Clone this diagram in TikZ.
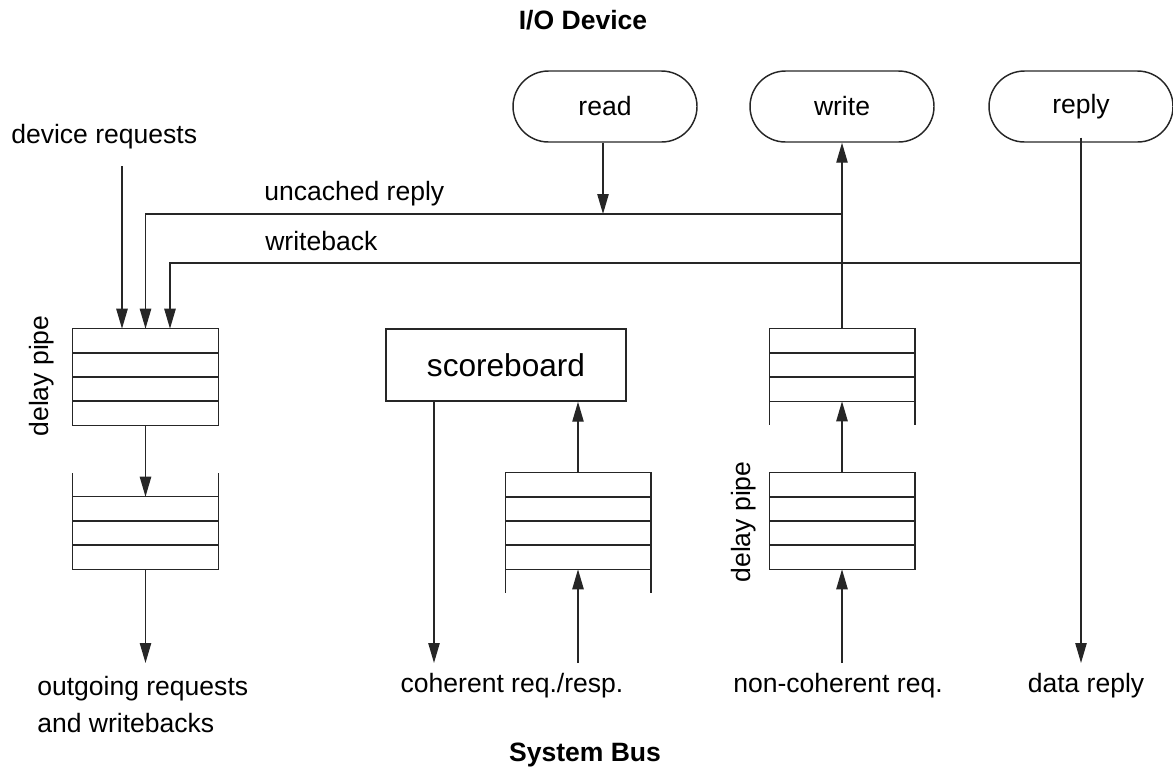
\documentclass[tikz,border=0pt]{standalone}
\usepackage{fontspec}
\setmainfont{Liberation Sans}
\usetikzlibrary{arrows.meta,calc,shapes.misc}

% draws a FIFO body: outline plus the row separators at the given fractions
\newcommand\drawfifo[2]{%
  \draw[line] (#1.north west) rectangle (#1.south east);
  \foreach \f in {#2}
    \draw[line] ($(#1.north west)!\f!(#1.south west)$) -- ($(#1.north east)!\f!(#1.south east)$);
}

\begin{document}
\begin{tikzpicture}[x=0.75pt,y=-0.75pt,
  every node/.style={font=\fontsize{19.9pt}{24pt}\selectfont, inner sep=0pt},
  line/.style={draw=black!85, line width=1.1pt},
  arr/.style={line, -{Triangle[length=15pt,width=8.5pt]}},
  term/.style={line, rounded rectangle, minimum width=138pt, minimum height=53.25pt},
  fifo/.style={rectangle, minimum width=108.75pt},
  lbl/.style={anchor=base west},
  clbl/.style={anchor=base},
  vlbl/.style={rotate=90},
  title/.style={anchor=base, font=\bfseries\fontsize{19.9pt}{24pt}\selectfont}]

\useasboundingbox (0,0) rectangle (1173,776);

% headings
\node[title] (top) at (583,29) {I/O Device};
\node[title] (bot) at (585,761) {System Bus};

% device-side terminals
\node[term] (read)  at (605,106.5)  {read};
\node[term] (write) at (842,106.5)  {write};
\node[term] (reply) at (1081,106.5) {reply};

% queues
\node[fifo, minimum height=72pt] (fA) at (145.5,377) {};
\node[fifo, minimum height=54pt] (fB) at (145.5,533) {};
\node[fifo, minimum height=54pt] (fC) at (842,365) {};
\node[fifo, minimum height=72pt] (fD) at (842,521) {};
\node[fifo, minimum height=72pt] (fM) at (578,521) {};
\drawfifo{fA}{0.25,0.5,0.75}
\drawfifo{fB}{0.3333,0.6667}
\drawfifo{fC}{0.3333,0.6667}
\drawfifo{fD}{0.25,0.5,0.75}
\drawfifo{fM}{0.25,0.5,0.75}
% open ends of queues
\draw[line] (fB.north west) -- ++(0,-24);
\draw[line] (fB.north east) -- ++(0,-24);
\draw[line] (fC.south west) -- ++(0,24);
\draw[line] (fC.south east) -- ++(0,24);
\draw[line] (fM.south west) -- ++(0,24);
\draw[line] (fM.south east) -- ++(0,24);

% scoreboard
\node[line, rectangle, minimum width=180pt, minimum height=54pt,
      font=\fontsize{23.7pt}{28pt}\selectfont] (sb) at (506,365) {scoreboard};

% labels
\node[lbl] (devreq) at (11,143) {device requests};
\node[lbl] (uncl) at (264,200) {uncached reply};
\node[lbl] (wbl) at (265,250) {writeback};
\node[vlbl] (dpA) at (42,376) {delay pipe};
\node[vlbl] (dpD) at (744,522) {delay pipe};
\node[lbl] (out1) at (37,695) {outgoing requests};
\node[lbl] (out2) at (37,732) {and writebacks};
\node[clbl] (coh) at (512,692) {coherent req./resp.};
\node[clbl] (ncoh) at (838,692) {non-coherent req.};
\node[clbl] (drep) at (1086,692) {data reply};

% junctions and free ends
\coordinate (dr) at (122,166);
\coordinate (uj) at (842,214);
\coordinate (wj) at (1081,263);
\coordinate (cohEnd) at (434,663);
\coordinate (cohIn) at (578,663);
\coordinate (ncIn) at (842,663);
\coordinate (outEnd) at (145.5,663);
\coordinate (repEnd) at (1081,663);
\coordinate (rs) at ($(read.south)+(-2,0)$);

% device side
\draw[arr] (dr) -- (dr |- fA.north);
\draw[arr] (uj) -| (fA.north);
\draw[arr] (wj) -| ($(fA.north)+(24.5,0)$);
\draw[arr] (rs) -- (rs |- uj);
\draw[arr] (fC.north) -- (write.south);
\draw[arr] ($(reply.south)+(0,-5)$) -- (repEnd);

% left column
\draw[arr] (fA.south) -- (fB.north);
\draw[arr] (fB.south) -- (outEnd);

% coherent path
\draw[arr] (sb.south -| cohEnd) -- (cohEnd);
\draw[arr] (fM.north) -- (fM.north |- sb.south);
\draw[arr] (cohIn) -- (fM.south);

% non-coherent path
\draw[arr] (fD.north) -- (fC.south);
\draw[arr] (ncIn) -- (fD.south);

\end{tikzpicture}
\end{document}
